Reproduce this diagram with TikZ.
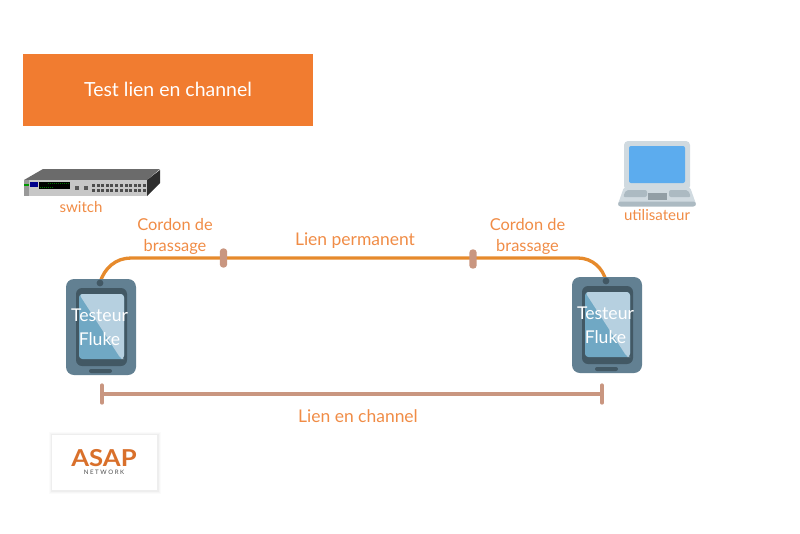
\documentclass[tikz,border=0pt]{standalone}
\usepackage{fontspec}
\setmainfont{Lato}
\usetikzlibrary{arrows.meta, positioning, backgrounds}
\definecolor{HeaderOrange}{RGB}{241,124,48}
\definecolor{LabelOrange}{RGB}{240,140,70}
\definecolor{CableOrange}{RGB}{230,138,44}
\definecolor{LinkBrown}{RGB}{201,150,128}
\definecolor{CaseBlue}{RGB}{98,128,146}
\definecolor{FrameBlue}{RGB}{66,88,100}
\definecolor{ScreenBlue}{RGB}{112,168,196}
\definecolor{GlareBlue}{RGB}{182,208,224}
\definecolor{LidGrey}{RGB}{208,218,224}
\definecolor{KeyGrey}{RGB}{172,186,194}
\definecolor{LaptopBlue}{RGB}{92,172,238}

\begin{document}
\begin{tikzpicture}[
          x=0.75pt, y=-0.75pt,
          label/.style={text=LabelOrange, font=\fontsize{12.3}{15.75}\selectfont, align=center, inner sep=0pt},
          linklabel/.style={label, font=\fontsize{13.1}{15.75}\selectfont},
          smalllabel/.style={text=LabelOrange, font=\fontsize{11.3}{12}\selectfont, inner sep=0pt},
          testertext/.style={text=white, font=\fontsize{13.2}{18}\selectfont, align=center, inner sep=0pt},
          cable/.style={CableOrange, line width=2.5pt},
          plug/.style={fill=LinkBrown, rounded corners=2.6pt, minimum width=5.6pt, minimum height=14.5pt, inner sep=0pt},
          linkbar/.style={{Bar[width=13pt,line width=3pt,round]}-{Bar[width=13pt,line width=3pt,round]}, LinkBrown, line width=2.8pt},
          header/.style={fill=HeaderOrange, text=white, minimum width=217.5pt, minimum height=54pt, inner sep=0pt, font=\fontsize{14.6}{16}\selectfont},
          logobox/.style={fill=white, minimum width=78.75pt, minimum height=41.25pt, inner sep=0pt},
          tester/.pic={
            \fill[CaseBlue, rounded corners=6pt] (-35,-48) rectangle (35,48);
            \fill[FrameBlue, rounded corners=4.5pt] (-25,-39) rectangle (26,39);
            \fill[ScreenBlue, rounded corners=2.5pt] (-22,-33) rectangle (23,32);
            \fill[GlareBlue, rounded corners=2.5pt] (-22,-33) -- (23,-33) -- (23,32) -- (20,32) -- cycle;
            \fill[FrameBlue] (-1,-44) circle (3.4);
            \fill[FrameBlue, rounded corners=1.5pt] (-12,42) rectangle (11,46);
            \coordinate (-knob) at (-1,-44);
          }
        ]
          \useasboundingbox (0,0) rectangle (800,533);

          \node (title) [header] at (168,89.5) {\raisebox{-1.2pt}{Test lien en channel}};

          % switch
          \fill[black!58] (24,180) -- (43,169) -- (160,169) -- (147,180) -- cycle;
          \fill[black!82] (147,180) -- (160,170) -- (160,183) -- (147,196) -- cycle;
          \fill[black!22] (24,180) rectangle (147,196);
          \fill[black!40] (24,180) rectangle (29,196);
          \fill[green!60!black] (24,184) rectangle (29,186);
          \fill[blue!55!black] (30,182) rectangle (38,187);
          \fill[black] (39,182) rectangle (70,189);
          \foreach \dx in {48,50,...,68}
            \fill[green!45!black] (\dx,183) rectangle +(1.3,1.3);
          \foreach \dx in {40,42,...,52}
            \fill[green!45!black] (\dx,186.5) rectangle +(1.3,1.3);
          \foreach \px in {92,96.5,...,116,120,124.5,...,144}
            \foreach \py in {184,189}
              \fill[black!70] (\px,\py) rectangle +(3.4,3.4);
          \fill[black!65] (75,186) rectangle +(4,4);
          \fill[black!65] (84,186) rectangle +(4,4);
          \coordinate (switch) at (81,196);
          \node (switchlabel) [smalllabel, below=3.6pt of switch] {switch};

          % laptop
          \fill[LidGrey, rounded corners=3pt] (624,141) rectangle (690,190);
          \fill[LaptopBlue, rounded corners=1.5pt] (629,146) rectangle (685,183);
          \fill[LidGrey, rounded corners=1.5pt] (624,187) -- (690,187) -- (696,204) -- (618,204) -- cycle;
          \fill[KeyGrey, rounded corners=1.5pt] (626,190) -- (647,190) -- (647,197) -- (623,197) -- cycle;
          \fill[KeyGrey, rounded corners=1.5pt] (669,190) -- (688,190) -- (691,197) -- (669,197) -- cycle;
          \fill[KeyGrey!85!black] (648,193) rectangle (667,200);
          \fill[KeyGrey, rounded corners=2pt] (618,201.5) rectangle (696,206.5);
          \coordinate (laptop) at (657,206);
          \node (laptoplabel) [smalllabel, below=2.6pt of laptop] {utilisateur};

          % testers
          \pic (testerL) at (101,327) {tester};
          \pic (testerR) at (607,325) {tester};
          \node (textL) [testertext] at (99.5,327.5) {Testeur\\Fluke};
          \node (textR) [testertext] at (605.5,325.5) {Testeur\\Fluke};

          % cable
          \coordinate (bendL) at (131,258);
          \coordinate (bendR) at (578,258);
          \node (plugA) [plug] at (223.5,258) {};
          \node (plugB) [plug] at (473,259) {};
          \begin{scope}[on background layer]
            \draw [cable] (testerL-knob) .. controls (104,268) and (116,258) .. (bendL) -- (bendR) .. controls (592,258) and (603,268) .. (testerR-knob);
          \end{scope}

          \node (cordonL) [label] at (175,236) {Cordon de\\brassage};
          \node (cordonR) [label] at (527.5,236) {Cordon de\\brassage};
          \node (permanent) [linklabel] at (355,241) {Lien permanent};

          % channel link
          \coordinate (barL) at (100,394);
          \coordinate (barR) at (604,394);
          \draw [linkbar] (barL) -- (barR);
          \node (channel) [linklabel] at (358,416) {Lien en channel};

          % logo
          \foreach \grow/\op in {3/0.015,2/0.02,1/0.03}
            \fill[black, opacity=\op] (52-\grow,435-\grow) rectangle (157.5+\grow,490.5+\grow);
          \node (logo) [logobox] at (104.5,462.5) {};
          \node (asap) [anchor=base, text=HeaderOrange!90!black, font=\fontsize{17.5}{18}\selectfont\bfseries, inner sep=0pt] at (104,466) {\scalebox{1.1}[1]{ASAP}};
          \node (network) [anchor=base, text=black!70, font=\fontsize{4.6}{5}\selectfont, inner sep=0pt] at (104,474.5) {N E T W O R K};
        \end{tikzpicture}
\end{document}
